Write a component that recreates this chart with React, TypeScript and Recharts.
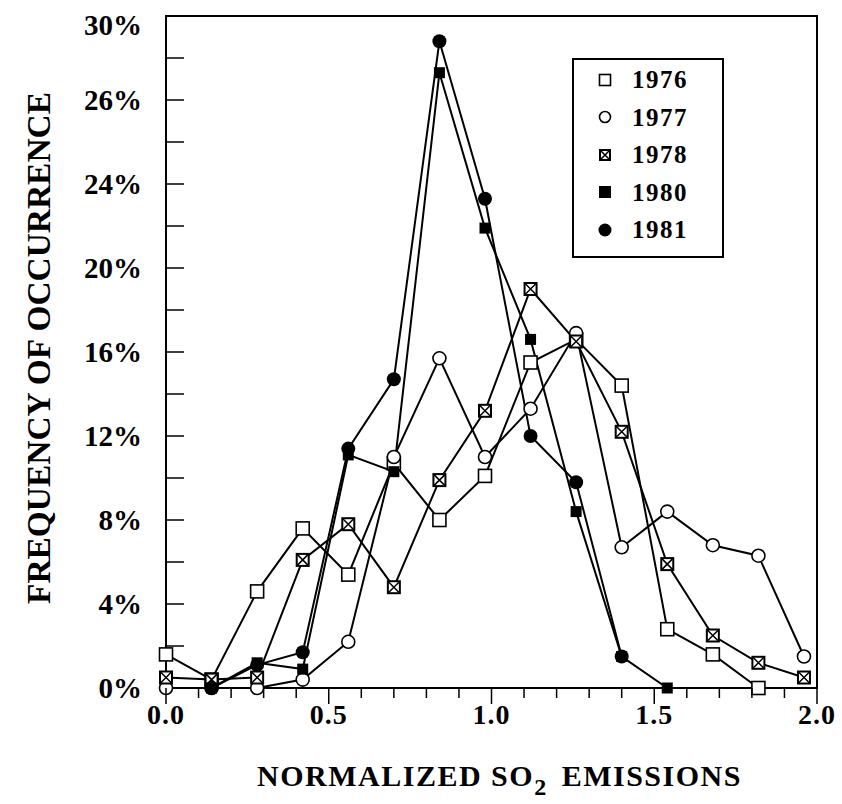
import React from 'react';
import { LineChart, Line, XAxis, YAxis, Legend, ReferenceArea, Label } from 'recharts';

// bin centres of normalized SO2 emissions
const bins = [0, 0.14, 0.28, 0.42, 0.56, 0.7, 0.84, 0.98, 1.12, 1.26, 1.4, 1.54, 1.68, 1.82, 1.96];

// frequency of occurrence (%) per year, null where no point is drawn
const freq1976 = [1.6, 0.4, 4.6, 7.6, 5.4, 10.7, 8.0, 10.1, 15.5, 16.6, 14.4, 2.8, 1.6, 0, null];
const freq1977 = [0, 0, 0, 0.4, 2.2, 11.0, 15.7, 11.0, 13.3, 16.9, 6.7, 8.4, 6.8, 6.3, 1.5];
const freq1978 = [0.5, 0.4, 0.5, 6.1, 7.8, 4.8, 9.9, 13.2, 19.0, 16.5, 12.2, 5.9, 2.5, 1.2, 0.5];
const freq1980 = [null, 0, 1.2, 0.9, 11.1, 10.3, 29.3, 21.9, 16.6, 8.4, 1.5, 0, null, null, null];
const freq1981 = [null, 0, 1.1, 1.7, 11.4, 14.7, 30.8, 23.3, 12.0, 9.8, 1.5, null, null, null, null];

const years = ['1976', '1977', '1978', '1980', '1981'];

const xTicks = [0, 0.1, 0.2, 0.3, 0.4, 0.5, 0.6, 0.7, 0.8, 0.9, 1, 1.1, 1.2, 1.3, 1.4, 1.5, 1.6, 1.7, 1.8, 1.9, 2];
const xMajor = [0, 0.5, 1, 1.5, 2];
const xMajorLabels = ['0.0', '0.5', '1.0', '1.5', '2.0'];

const yTicks = [0, 2, 4, 6, 8, 10, 12, 14, 16, 18, 20, 22, 24, 26, 28, 30, 32];
const yMajor = [0, 4, 8, 12, 16, 20, 24, 28, 32];
// printed as in the original figure
const yMajorLabels = ['0%', '4%', '8%', '12%', '16%', '20%', '24%', '26%', '30%'];

const data = bins.map((x, i) => ({
  x,
  y1976: freq1976[i],
  y1977: freq1977[i],
  y1978: freq1978[i],
  y1980: freq1980[i],
  y1981: freq1981[i]
}));

const FONT = '"Liberation Serif", "Times New Roman", serif';

type Kind = 'square' | 'circle' | 'cross' | 'fsquare' | 'fcircle';
const kinds: Record<string, Kind> = {
  '1976': 'square',
  '1977': 'circle',
  '1978': 'cross',
  '1980': 'fsquare',
  '1981': 'fcircle'
};

function marker(kind: Kind, cx: number, cy: number, s: number, key?: string | number) {
  const h = s / 2;
  switch (kind) {
    case 'square':
      return <rect key={key} x={cx - h} y={cy - h} width={s} height={s} fill="#fff" stroke="#000" strokeWidth={1.6} />;
    case 'circle':
      return <circle key={key} cx={cx} cy={cy} r={h} fill="#fff" stroke="#000" strokeWidth={1.6} />;
    case 'cross':
      return (
        <g key={key}>
          <rect x={cx - h} y={cy - h} width={s} height={s} fill="#fff" stroke="#000" strokeWidth={2} />
          <path
            d={`M${cx - h} ${cy - h}L${cx + h} ${cy + h}M${cx + h} ${cy - h}L${cx - h} ${cy + h}`}
            stroke="#000"
            strokeWidth={1.5}
          />
        </g>
      );
    case 'fsquare':
      return <rect key={key} x={cx - h} y={cy - h} width={s} height={s} fill="#000" />;
    default:
      return <circle key={key} cx={cx} cy={cy} r={h} fill="#000" />;
  }
}

const dotSize: Record<Kind, number> = { square: 13, circle: 13, cross: 12, fsquare: 11, fcircle: 14 };

const makeDot = (kind: Kind) => (props: any) => {
  const { cx, cy, index } = props;
  if (cx == null || cy == null || props.value == null) return <g key={`d${index}`} />;
  return marker(kind, cx, cy, dotSize[kind], `d${index}`);
};

const XTick = (props: any) => {
  const { x, y, payload } = props;
  const idx = xMajor.indexOf(payload.value);
  const major = idx >= 0;
  return (
    <g>
      <line x1={x} x2={x} y1={y} y2={y + (major ? 16 : 10)} stroke="#000" strokeWidth={1.5} />
      {major && (
        <text x={x} y={y + 36} textAnchor="middle" fontFamily={FONT} fontWeight="bold" fontSize={28} letterSpacing={1} fill="#000">
          {xMajorLabels[idx]}
        </text>
      )}
    </g>
  );
};

const YTickLeft = (props: any) => {
  const { x, y, payload } = props;
  const idx = yMajor.indexOf(payload.value);
  return (
    <g>
      {payload.value > 0 && payload.value < 32 && (
        <line x1={x} x2={x + 18} y1={y} y2={y} stroke="#000" strokeWidth={1.5} />
      )}
      {idx >= 0 && (
        <text
          x={x - 24}
          y={y + (payload.value === 32 ? 19 : 10)}
          textAnchor="end"
          fontFamily={FONT}
          fontWeight="bold"
          fontSize={29}
          fill="#000"
        >
          {yMajorLabels[idx]}
        </text>
      )}
    </g>
  );
};

const YTickRight = (props: any) => {
  const { x, y, payload } = props;
  if (payload.value <= 0 || payload.value >= 32) return <g />;
  return <line x1={x} x2={x - 17} y1={y} y2={y} stroke="#000" strokeWidth={1.5} />;
};

const YTitle = () => (
  <text
    x={38}
    y={348}
    transform="rotate(-90 38 348)"
    textAnchor="middle"
    dominantBaseline="central"
    fontFamily={FONT}
    fontWeight="bold"
    fontSize={34}
    textLength={512}
    lengthAdjust="spacingAndGlyphs"
    fill="#000"
  >
    FREQUENCY OF OCCURRENCE
  </text>
);

const XTitle = (props: any) => {
  const vb = props.viewBox;
  const cx = vb.x + vb.width / 2 + 8;
  return (
    <text x={cx} y={786} textAnchor="middle" fontFamily={FONT} fontWeight="bold" fontSize={30} letterSpacing={1.5} fill="#000">
      <tspan>NORMALIZED SO</tspan>
      <tspan dy={9} fontSize={24}>2</tspan>
      <tspan dy={-9} dx={14}>EMISSIONS</tspan>
    </text>
  );
};

const renderLegend = (props: any) => {
  const payload = props.payload || [];
  return (
    <div
      style={{
        border: '2px solid #000',
        width: 152,
        height: 200,
        boxSizing: 'border-box',
        background: '#fff',
        paddingTop: 1
      }}
    >
      {payload.map((entry: any) => {
        const k = kinds[entry.value] || 'square';
        const small: Record<Kind, number> = { square: 11, circle: 11, cross: 10, fsquare: 12, fcircle: 13 };
        return (
          <div key={entry.value} style={{ display: 'flex', alignItems: 'center', height: 37.5 }}>
            <svg width={20} height={20} style={{ marginLeft: 21, display: 'block' }}>
              {marker(k, 10, 10, small[k])}
            </svg>
            <span
              style={{
                marginLeft: 17,
                fontFamily: FONT,
                fontWeight: 'bold',
                fontSize: 25,
                letterSpacing: 1.5,
                lineHeight: '25px',
                color: '#000'
              }}
            >
              {entry.value}
            </span>
          </div>
        );
      })}
    </div>
  );
};

export default function App() {
  return (
    <div style={{ position: 'absolute', left: 0, top: 0, width: 842, height: 804, background: '#fff' }}>
      <LineChart width={842} height={804} data={data} margin={{ top: 16, right: 25, bottom: 0, left: 0 }}>
        <XAxis
          type="number"
          dataKey="x"
          domain={[0, 2]}
          ticks={xTicks}
          interval={0}
          tickSize={0}
          tickMargin={0}
          tickLine={false}
          tick={<XTick />}
          height={116}
          axisLine={{ stroke: '#000', strokeWidth: 2 }}
        >
          <Label content={<XTitle />} />
        </XAxis>
        <YAxis
          yAxisId="left"
          type="number"
          domain={[0, 32]}
          ticks={yTicks}
          interval={0}
          tickSize={0}
          tickMargin={0}
          tickLine={false}
          tick={<YTickLeft />}
          width={166}
          axisLine={{ stroke: '#000', strokeWidth: 2 }}
        >
          <Label content={<YTitle />} />
        </YAxis>
        <YAxis
          yAxisId="right"
          orientation="right"
          type="number"
          domain={[0, 32]}
          allowDataOverflow
          ticks={yTicks}
          interval={0}
          tickSize={0}
          tickMargin={0}
          tickLine={false}
          tick={<YTickRight />}
          width={0}
          axisLine={{ stroke: '#000', strokeWidth: 2 }}
        />
        <ReferenceArea
          yAxisId="left"
          x1={0}
          x2={2}
          y1={0}
          y2={32}
          fill="none"
          fillOpacity={0}
          stroke="#000"
          strokeWidth={2}
          ifOverflow="visible"
        />
        {years.map((yr) => (
          <Line
            key={yr}
            yAxisId="left"
            type="linear"
            dataKey={`y${yr}`}
            name={yr}
            stroke="#000"
            strokeWidth={2}
            dot={makeDot(kinds[yr])}
            activeDot={false}
            isAnimationActive={false}
            legendType="square"
          />
        ))}
        <Legend
          layout="vertical"
          align="center"
          verticalAlign="middle"
          content={renderLegend}
          wrapperStyle={{ position: 'absolute', left: 572, top: 58, width: 152, height: 200 }}
        />
      </LineChart>
    </div>
  );
}
